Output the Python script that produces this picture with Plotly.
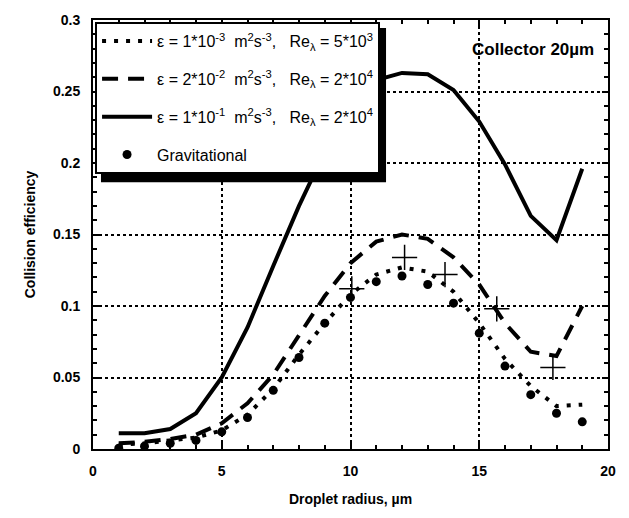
import plotly.graph_objects as go

radius = list(range(1, 20))
eps_1e3 = [0.003, 0.004, 0.006, 0.008, 0.013, 0.024, 0.042, 0.066, 0.088, 0.108,
           0.122, 0.127, 0.124, 0.110, 0.088, 0.063, 0.044, 0.030, 0.031]
eps_2e2 = [0.004, 0.005, 0.007, 0.010, 0.018, 0.032, 0.052, 0.080, 0.107, 0.130,
           0.145, 0.150, 0.147, 0.134, 0.115, 0.088, 0.068, 0.065, 0.100]
eps_1e1 = [0.011, 0.011, 0.014, 0.025, 0.050, 0.085, 0.128, 0.170, 0.208, 0.240,
           0.258, 0.263, 0.262, 0.251, 0.229, 0.199, 0.163, 0.146, 0.196]
grav = [0.0005, 0.002, 0.004, 0.006, 0.012, 0.022, 0.041, 0.064, 0.088, 0.106,
        0.117, 0.121, 0.115, 0.102, 0.081, 0.058, 0.038, 0.025, 0.019]
plus_x = [10.05, 12.1, 13.67, 15.68, 17.86]
plus_y = [0.112, 0.134, 0.122, 0.098, 0.057]

sp = "\u00a0\u00a0"
names = [
    "ε = 1*10<sup>-3</sup>\u00a0 m<sup>2</sup>s<sup>-3</sup>," + sp + " Re<sub>λ</sub> = 5*10<sup>3</sup>",
    "ε = 2*10<sup>-2</sup>\u00a0 m<sup>2</sup>s<sup>-3</sup>," + sp + " Re<sub>λ</sub> = 2*10<sup>4</sup>",
    "ε = 1*10<sup>-1</sup>\u00a0 m<sup>2</sup>s<sup>-3</sup>," + sp + " Re<sub>λ</sub> = 2*10<sup>4</sup>",
    "Gravitational",
]

fig = go.Figure()
fig.add_trace(go.Scatter(x=radius, y=eps_1e3, mode="lines", name=names[0], legendgroup="a",
                         line=dict(color="black", width=4, dash="4px,8px")))
fig.add_trace(go.Scatter(x=radius, y=eps_2e2, mode="lines", name=names[1], legendgroup="b",
                         line=dict(color="black", width=4, dash="16px,10px")))
fig.add_trace(go.Scatter(x=radius, y=eps_1e1, mode="lines", name=names[2], legendgroup="c",
                         line=dict(color="black", width=4)))
fig.add_trace(go.Scatter(x=radius, y=grav, mode="markers", name=names[3], legendgroup="d",
                         marker=dict(symbol="circle", size=9, color="black")))
fig.add_trace(go.Scatter(x=plus_x, y=plus_y, mode="markers", showlegend=False,
                         marker=dict(symbol="cross-thin", size=18,
                                     line=dict(color="black", width=1.5))))

axis_common = dict(
    showline=True, linecolor="black", linewidth=2, mirror="allticks",
    ticks="inside", ticklen=6, tickwidth=1.5, tickcolor="black",
    showgrid=True, gridcolor="black", gridwidth=1.5, griddash="dot",
    zeroline=False,
    tickfont=dict(family="Liberation Sans", size=14, color="black", weight="bold"),
    title_font=dict(family="Liberation Sans", size=14, color="black", weight="bold"),
)

fig.update_xaxes(range=[0, 20], tickmode="array", tickvals=[0, 5, 10, 15, 20],
                 minor=dict(dtick=1, ticks="inside", ticklen=4, tickcolor="black", showgrid=False),
                 ticklabelstandoff=8,
                 title_text="Droplet radius, µm", title_standoff=16, **axis_common)
fig.update_yaxes(range=[0, 0.3], tickmode="array",
                 tickvals=[0, 0.05, 0.1, 0.15, 0.2, 0.25, 0.3],
                 ticktext=["0", "0.05", "0.1", "0.15", "0.2", "0.25", "0.3"],
                 minor=dict(dtick=0.01, ticks="inside", ticklen=4, tickcolor="black", showgrid=False),
                 ticklabelstandoff=8,
                 title_text="Collision efficiency", title_standoff=14, **axis_common)

fig.add_annotation(text="<b>Collector 20µm</b>", xref="paper", yref="paper",
                   x=0.977, y=0.931, xanchor="right", yanchor="middle", showarrow=False,
                   font=dict(family="Liberation Sans", size=17, color="black"))

# legend drop shadow (legend is drawn on top of it)
fig.add_shape(type="rect", xref="paper", yref="paper",
              x0=0.0155, x1=0.569, y0=0.622, y1=0.9816,
              fillcolor="black", line=dict(width=0), layer="above")

fig.update_layout(
    width=629, height=518,
    margin=dict(l=93, r=21, t=15, b=69),
    paper_bgcolor="white", plot_bgcolor="white",
    font=dict(family="Liberation Sans", size=13, color="black"),
    legend=dict(x=0.004, y=0.995, xanchor="left", yanchor="top",
                bgcolor="white", bordercolor="black", borderwidth=2,
                traceorder="grouped", tracegroupgap=14, itemwidth=50,
                font=dict(family="Liberation Sans", size=16, color="black")),
    showlegend=True,
)

fig.write_html("out.html")
